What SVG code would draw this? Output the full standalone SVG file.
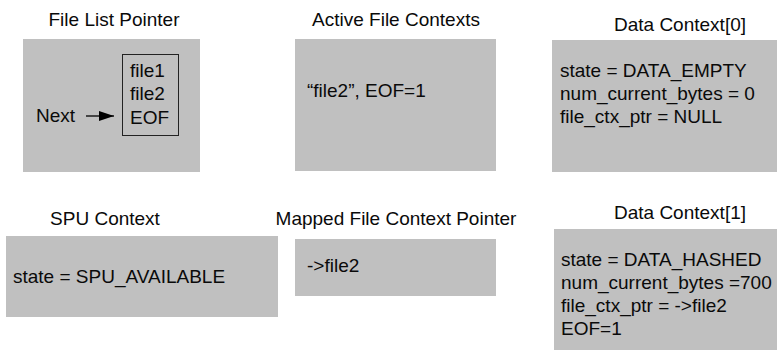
<svg xmlns="http://www.w3.org/2000/svg" width="777" height="355" viewBox="0 0 777 355">
  <style>
    text { font-family: "Liberation Sans", Arial, Helvetica, sans-serif; font-size: 19px; fill: #0a0a0a; }
    .title { text-anchor: middle; }
    .panel { fill: #c0c0c0; }
    .list { fill: none; stroke: #222; stroke-width: 1; }
    .ptr { stroke: #000; stroke-width: 1.3; fill: none; }
  </style>
  <defs>
    <marker id="head" viewBox="0 0 15 10" refX="15" refY="5" markerWidth="15" markerHeight="10" markerUnits="userSpaceOnUse" orient="auto">
      <path d="M0,0 L15,5 L0,10 Z" fill="#000"/>
    </marker>
  </defs>

  <g id="file-list-pointer">
    <text class="title" x="114" y="26">File List Pointer</text>
    <rect class="panel" x="23" y="39" width="177" height="133"/>
    <rect class="list" x="122.5" y="54.5" width="56" height="81"/>
    <text x="130" y="77">file1</text>
    <text x="130" y="100">file2</text>
    <text x="130" y="124">EOF</text>
    <text x="36" y="122">Next</text>
  </g>

  <g id="active-file-contexts">
    <text class="title" x="396" y="26">Active File Contexts</text>
    <rect class="panel" x="295" y="39" width="201" height="132"/>
    <text x="307" y="97">“file2”, EOF=1</text>
  </g>

  <g id="data-context-0">
    <text class="title" x="680" y="31">Data Context[0]</text>
    <rect class="panel" x="552" y="40" width="225" height="132"/>
    <text x="560" y="77">state = DATA_EMPTY</text>
    <text x="560" y="100">num_current_bytes = 0</text>
    <text x="560" y="123">file_ctx_ptr = NULL</text>
  </g>

  <g id="spu-context">
    <text class="title" x="105" y="225">SPU Context</text>
    <rect class="panel" x="6" y="236" width="272" height="81"/>
    <text x="13" y="283">state = SPU_AVAILABLE</text>
  </g>

  <g id="mapped-file-context-pointer">
    <text class="title" x="396" y="225">Mapped File Context Pointer</text>
    <rect class="panel" x="295" y="239" width="201" height="57"/>
    <text x="307" y="272">-&gt;file2</text>
  </g>

  <g id="data-context-1">
    <text class="title" x="680" y="219">Data Context[1]</text>
    <rect class="panel" x="554" y="229" width="223" height="121"/>
    <text x="561" y="266">state = DATA_HASHED</text>
    <text x="561" y="289">num_current_bytes =700</text>
    <text x="561" y="312">file_ctx_ptr = -&gt;file2</text>
    <text x="561" y="335">EOF=1</text>
  </g>

  <g id="connectors">
    <line class="ptr" x1="86" y1="116" x2="114" y2="116" marker-end="url(#head)"/>
  </g>
</svg>
